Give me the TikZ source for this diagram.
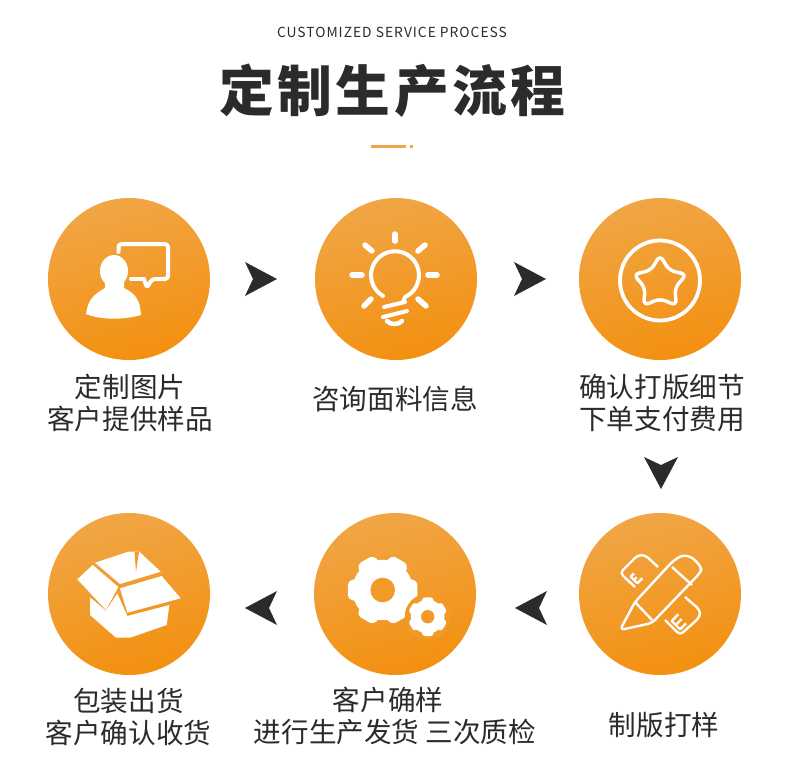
\documentclass[tikz,border=0pt]{standalone}
\usepackage{fontspec}
\usetikzlibrary{shapes.geometric}
\setmainfont{Noto Sans CJK SC}
\newfontfamily\titlefont[LetterSpace=6.5]{Noto Sans CJK SC Black}
\newfontfamily\latinfont[LetterSpace=7]{Noto Sans CJK SC}
\definecolor{inktext}{HTML}{2B2B2B}
\definecolor{orangetop}{HTML}{F0A646}
\definecolor{orangelow}{HTML}{F39010}
\definecolor{orangemid}{HTML}{F29A28}
\tikzset{
    disc/.style={circle, minimum size=162bp, inner sep=0pt, top color=orangetop, bottom color=orangelow, shading angle=15},
    caption/.style={font=\fontsize{27.7}{33}\selectfont, text=inktext, align=center},
    icon/.style={draw=white, line width=4bp, line join=round, line cap=round},
    iconfill/.style={fill=white},
    thin icon/.style={draw=white, line width=2.4bp, line join=round},
    chevron/.pic={\fill[inktext] (-16,-17) -- (16,0) -- (-16,17) -- (-8,0) -- cycle;},
}
\newcommand{\gearicon}[4]{% centre, outer radius, first tooth, hole
    \fill[white] (#1) circle (0.84*#2);
    \foreach \tooth in {0,60,...,300} {
        \fill[white, shift={(#1)}, rounded corners=0.12*#2*1bp] (#3+\tooth-25:0.75*#2) -- (#3+\tooth-15:#2) -- (#3+\tooth+15:#2) -- (#3+\tooth+25:0.75*#2) -- cycle;
    }
    \fill[orangemid] (#1) circle (#4);
}
\begin{document}
\begin{tikzpicture}[x=1bp, y=-1bp]
    \useasboundingbox (0, 0) rectangle (790, 772);
    \fill[white] (0, 0) rectangle (790, 772);

    % Heading
    \node[font=\latinfont\fontsize{13.9}{16}\selectfont, text=inktext] (subtitle) at (392, 32) {CUSTOMIZED SERVICE PROCESS};
    \node[font=\titlefont\fontsize{55}{60}\selectfont, text=inktext] (title) at (392.5, 91) {定制生产流程};
    \fill[orangetop] (371, 145) rectangle (406, 147.5);
    \fill[orangetop] (409.5, 145) rectangle (413, 147.5);

    % Discs
    \node[disc] (sample) at (129, 279) {};
    \node[disc] (consult) at (396, 279) {};
    \node[disc] (confirm) at (660, 279) {};
    \node[disc] (proof) at (660, 594) {};
    \node[disc] (produce) at (395, 594) {};
    \node[disc] (ship) at (129, 594) {};

    % Captions
    \node[caption] (samplelabel) at (130, 403) {定制图片\\客户提供样品};
    \node[caption] (consultlabel) at (395, 399) {咨询面料信息};
    \node[caption] (confirmlabel) at (662, 403) {确认打版细节\\下单支付费用};
    \node[caption] (prooflabel) at (664, 725) {制版打样};
    \node[caption] (producelabel) at (395, 716) {客户确样\hspace*{14bp}\\进行生产发货 三次质检};
    \node[caption] (shiplabel) at (128.5, 717) {包装出货\\客户确认收货};

    % Arrows
    \pic at (261, 279) {chevron};
    \pic at (530, 279) {chevron};
    \pic[rotate=-90] at (661, 473) {chevron};
    \pic[rotate=180] at (531, 608) {chevron};
    \pic[rotate=180] at (261, 608) {chevron};

    % Person and speech bubble
    \fill[iconfill] (114, 271) ellipse (14 and 16);
    \fill[iconfill] (86, 314) .. controls (88, 300) and (93, 295) .. (105, 288) -- (105, 280) -- (124, 280) -- (124, 288) .. controls (136, 294) and (140, 300) .. (141, 315) .. controls (125, 320) and (100, 320) .. cycle;
    \draw[icon, rounded corners=3bp] (118.5, 252) -- (118.5, 244) -- (168, 244) -- (168, 279) -- (152, 279) -- (147, 288) -- (144, 279);
    \draw[icon] (144, 279) -- (131, 279);

    % Bulb
    \draw[icon] (383, 296) arc[start angle=120, end angle=425, radius=24] -- (403, 302);
    \draw[icon] (384, 307) -- (405, 302);
    \draw[icon] (383, 317) -- (407, 311);
    \draw[icon, line width=4.5bp] (387, 321) .. controls (390, 325) and (399, 325) .. (402, 321);
    \foreach \rx/\ry/\sx/\sy in {395/234/395/241, 365/245/372/251, 425/245/418/251, 352/275/362/275, 428/275/437/275, 364/306/371/299, 426/306/418/299} {
        \draw[icon, line width=5.5bp] (\rx, \ry) -- (\sx, \sy);
    }

    % Star
    \draw[white, line width=3.8bp] (660, 280.5) circle (40);
    \node[star, star points=5, star point ratio=1.8, minimum size=56bp, inner sep=0pt, draw=white, line width=3.5bp, rounded corners=6bp] (starmark) at (660, 283) {};

    % Pencil and rulers
    \draw[thin icon, rounded corners=4bp] (620, 630) -- (635, 602) -- (672, 562) -- (682, 555) -- (692, 557) -- (702, 568) -- (700, 573) -- (652, 623) -- cycle;
    \draw[thin icon] (635, 602) -- (652, 620);
    \draw[thin icon] (672, 567) -- (692, 585);
    \draw[thin icon, rounded corners=4bp] (635, 587) -- (620, 573) -- (638, 555) -- (645, 555) -- (658, 567);
    \draw[thin icon, rounded corners=4bp] (685, 597) -- (700, 610) -- (700, 617) -- (680, 635) -- (665, 620);
    \draw[thin icon] (634, 573.3) -- (630.7, 576.7) -- (637.3, 583.3) -- (642.3, 578.3);
    \draw[thin icon] (634, 580) -- (636.7, 577.3);
    \draw[thin icon] (678.3, 614.3) -- (671.7, 621) -- (680, 629.3) -- (686, 623.3);
    \draw[thin icon] (675.7, 625) -- (681.7, 619);

    % Gears
    \gearicon{382.7, 590}{36}{0}{12.3}
    \fill[orangemid] (427.7, 616.7) circle (23);
    \gearicon{427.7, 616.7}{20}{30}{6.7}

    % Open box
    \fill[iconfill] (95, 562.7) -- (128.3, 551.7) -- (139.3, 551.7) -- (160.7, 571.7) -- (120, 584) -- cycle;
    \fill[orangemid] (134.5, 551.7) -- (139, 551.7) -- (136, 572) -- cycle;
    \fill[iconfill] (77.3, 579.3) -- (92.7, 565) -- (118.3, 587) -- (106, 610) -- cycle;
    \fill[iconfill] (120, 588.3) -- (161.7, 576) -- (180.7, 598.3) -- (127.3, 612.7) -- cycle;
    \fill[iconfill] (90, 597.3) -- (106, 610.7) -- (117.3, 593.3) -- (127.3, 616) -- (169.3, 605) -- (166.7, 625) -- (130, 637.7) -- (116, 637.7) -- (90, 615) -- cycle;
\end{tikzpicture}
\end{document}
